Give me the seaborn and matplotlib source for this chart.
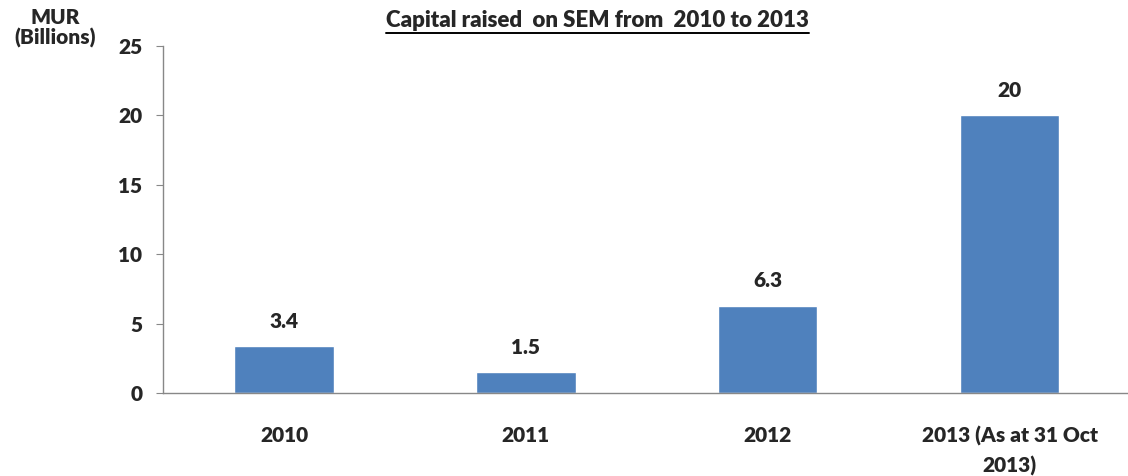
import matplotlib
matplotlib.use("Agg")
import matplotlib.pyplot as plt
import seaborn as sns
import pandas as pd
from matplotlib.lines import Line2D

categories = ["2010", "2011", "2012", "2013 (As at 31 Oct\n2013)"]
values = [3.4, 1.5, 6.3, 20]
value_labels = ["3.4", "1.5", "6.3", "20"]
y_ticks = [0, 5, 10, 15, 20, 25]

sns.set_style("white")
plt.rcParams['font.family'] = ['Lato', 'DejaVu Sans']

FS = 15
df = pd.DataFrame({"cat": categories, "val": values})

fig = plt.figure(figsize=(11.28, 4.76), dpi=100)
ax = fig.add_axes([0.1445, 0.1744, 0.858, 0.729])
sns.barplot(data=df, x="cat", y="val", color="#4F81BD", saturation=1, width=0.41, ax=ax)

ax.set_ylim(0, 25)
ax.set_xlim(-0.5, 3.5)
ax.set_yticks(y_ticks)
ax.set_yticklabels([str(t) for t in y_ticks], fontsize=FS, fontweight='heavy')
ax.set_xticks(range(len(categories)))
ax.set_xticklabels(categories, fontsize=FS, fontweight='heavy', linespacing=1.55)
ax.set_xticks([0.5, 1.5, 2.5], minor=True)
ax.tick_params(axis='x', which='major', length=0, pad=24)
ax.tick_params(axis='x', which='minor', length=6, color='#888888', direction='out')
ax.tick_params(axis='y', length=5, color='#888888', direction='out', pad=10, left=True)
ax.set_xlabel("")
ax.set_ylabel("")
for s in ["top", "right"]:
    ax.spines[s].set_visible(False)
for s in ["left", "bottom"]:
    ax.spines[s].set_color("#888888")
    ax.spines[s].set_linewidth(1)

for i, (v, lab) in enumerate(zip(values, value_labels)):
    ax.text(i, v + 1.1, lab, ha='center', va='bottom', fontsize=FS, fontweight='heavy')

fig.text(0.049, 0.963, "MUR", ha='center', va='center', fontsize=FS, fontweight='heavy')
fig.text(0.049, 0.920, "(Billions)", ha='center', va='center', fontsize=FS, fontweight='heavy')

title = fig.text(0.5295, 0.957, "Capital raised  on SEM from  2010 to 2013", ha='center',
                 va='center', fontsize=16, fontweight='heavy')
fig.canvas.draw()
bb = title.get_window_extent().transformed(fig.transFigure.inverted())
fig.add_artist(Line2D([bb.x0, bb.x1], [bb.y0 - 0.004, bb.y0 - 0.004], color='black',
                      linewidth=1.4, transform=fig.transFigure))

fig.savefig("out.png", dpi=100)
